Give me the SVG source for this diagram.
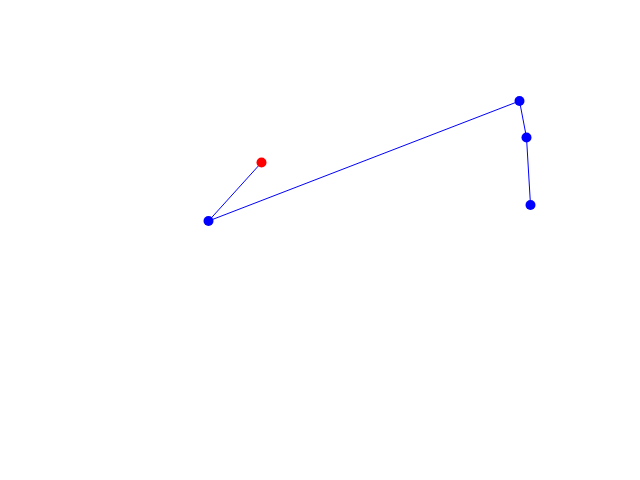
<svg xmlns="http://www.w3.org/2000/svg" width="640" height="480" viewBox="0 0 640 480">
<style>
.e{stroke:#0000ff;stroke-width:1;fill:none}
.b{fill:#0000ff}
.r{fill:#ff0000}
</style>
<rect width="640" height="480" fill="#ffffff"/>
<g id="connectors">
<polyline class="e" points="261.5,162.5 208.5,221 519.5,101 526.5,137.5 530.5,205"/>
</g>
<g id="n0"><circle class="r" cx="261.5" cy="162.5" r="5"/></g>
<g id="n1"><circle class="b" cx="208.5" cy="221" r="5"/></g>
<g id="n2"><circle class="b" cx="519.5" cy="101" r="5"/></g>
<g id="n3"><circle class="b" cx="526.5" cy="137.5" r="5"/></g>
<g id="n4"><circle class="b" cx="530.5" cy="205" r="5"/></g>
</svg>
